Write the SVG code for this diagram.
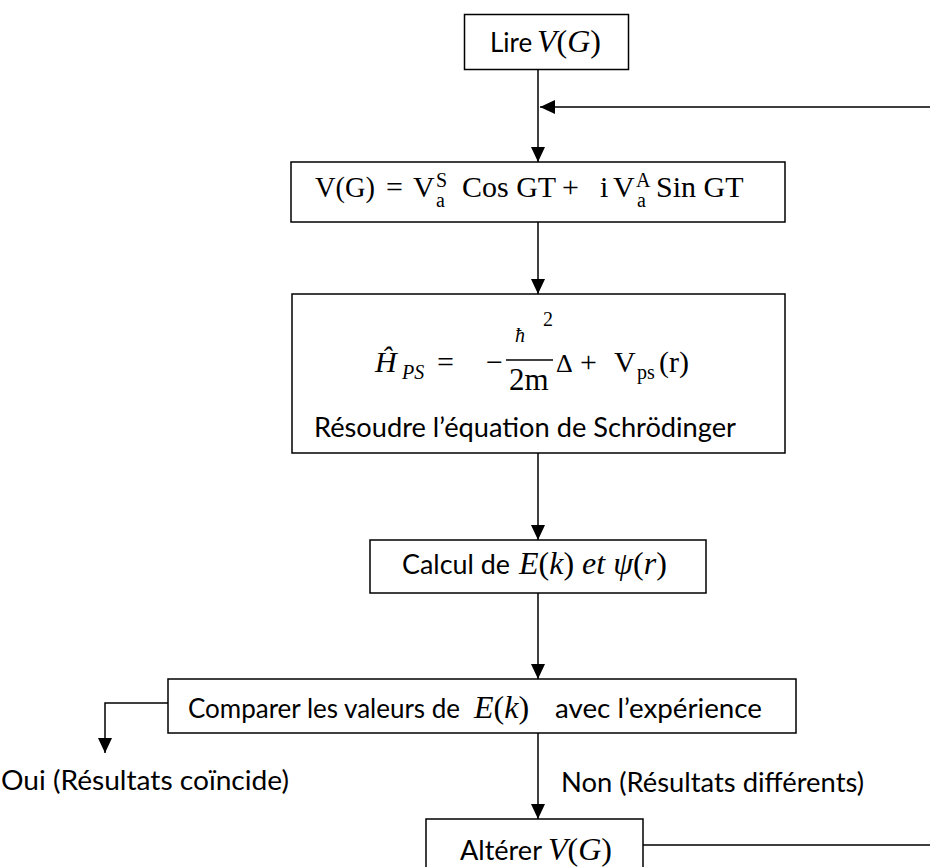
<svg xmlns="http://www.w3.org/2000/svg" width="930" height="867" viewBox="0 0 930 867">
<style>
.box{fill:#fff;stroke:#000;stroke-width:1.5}
.conn{fill:none;stroke:#000;stroke-width:1.5}
.t{font-family:Lato,"Open Sans","Liberation Sans",sans-serif;font-size:26px;fill:#000}
.m{font-family:"Liberation Serif","Times New Roman",serif;font-size:30px;fill:#000}
.mb{font-family:"Liberation Serif","Times New Roman",serif;font-size:32px;fill:#000}
.i{font-style:italic}
.s{font-size:20px}
</style>
<defs>
<marker id="ah" markerUnits="userSpaceOnUse" markerWidth="15" markerHeight="14" refX="15" refY="7" orient="auto">
<path d="M0,0 L15,7 L0,14 z" fill="#000"/>
</marker>
</defs>
<rect width="930" height="867" fill="#fff"/>
<g id="connectors">
<path class="conn" d="M538,69 V162" marker-end="url(#ah)"/>
<path class="conn" d="M538,208 V294" marker-end="url(#ah)"/>
<path class="conn" d="M538,453 V540" marker-end="url(#ah)"/>
<path class="conn" d="M538,593 V679" marker-end="url(#ah)"/>
<path class="conn" d="M168,703 H105 V753" marker-end="url(#ah)"/>
<path class="conn" d="M538,733 V819" marker-end="url(#ah)"/>
<path class="conn" d="M643,845 H931 V107 H540" marker-end="url(#ah)"/>
</g>
<g id="n1">
<rect class="box" x="464.5" y="14.5" width="164" height="55"/>
<text class="t" x="490" y="52">Lire</text>
<text class="mb" x="537" y="52"><tspan class="i">V</tspan>(<tspan class="i">G</tspan>)</text>
</g>
<g id="n2">
<rect class="box" x="291" y="162" width="494" height="60"/>
<text class="m" x="315" y="197" textLength="60" lengthAdjust="spacingAndGlyphs">V(G)</text>
<text class="m" x="386" y="197">=</text>
<text class="m" x="413" y="197">V</text>
<text class="m s" x="436" y="187">S</text>
<text class="m s" x="436" y="207">a</text>
<text class="m" x="462" y="197">Cos GT</text>
<text class="m" x="562" y="197">+</text>
<text class="m" x="600" y="197">i</text>
<text class="m" x="613" y="197">V</text>
<text class="m s" x="636" y="187">A</text>
<text class="m s" x="637" y="207">a</text>
<text class="m" x="656" y="197">Sin GT</text>
</g>
<g id="n3">
<rect class="box" x="292" y="294" width="493" height="159"/>
<text class="m i" x="375" y="372">Ĥ</text>
<text class="m i s" x="402" y="379">PS</text>
<text class="m" x="437" y="372">=</text>
<text class="m" x="486" y="372">−</text>
<text class="m i s" x="515" y="342">ħ</text>
<text class="m s" x="543" y="326">2</text>
<line x1="506" y1="360" x2="553" y2="360" stroke="#000" stroke-width="1.5"/>
<text class="m" x="509" y="390" style="font-size:31px">2m</text>
<text class="m" x="556" y="372" style="font-size:26px">Δ</text>
<text class="m" x="580" y="372">+</text>
<text class="m" x="614" y="372">V</text>
<text class="m s" x="637" y="379">ps</text>
<text class="m" x="659" y="372">(r)</text>
<text class="t" x="314" y="437" textLength="422" lengthAdjust="spacingAndGlyphs">Résoudre l’équation de Schrödinger</text>
</g>
<g id="n4">
<rect class="box" x="370" y="540" width="336" height="53"/>
<text class="t" x="402" y="574" textLength="108" lengthAdjust="spacingAndGlyphs">Calcul de</text>
<text class="mb" x="519" y="574"><tspan class="i">E</tspan>(<tspan class="i">k</tspan>) <tspan class="i">et ψ</tspan>(<tspan class="i">r</tspan>)</text>
</g>
<g id="n5">
<rect class="box" x="168" y="679" width="628" height="54"/>
<text class="t" x="188" y="718" textLength="272" lengthAdjust="spacingAndGlyphs">Comparer les valeurs de</text>
<text class="mb" x="474" y="718"><tspan class="i">E</tspan>(<tspan class="i">k</tspan>)</text>
<text class="t" x="555" y="718" textLength="207" lengthAdjust="spacingAndGlyphs">avec l’expérience</text>
</g>
<g id="n6">
<rect class="box" x="426" y="819" width="217" height="70"/>
<text class="t" x="460" y="860" textLength="82" lengthAdjust="spacingAndGlyphs">Altérer</text>
<text class="mb" x="548" y="860"><tspan class="i">V</tspan>(<tspan class="i">G</tspan>)</text>
</g>
<g id="labels">
<text class="t" x="1" y="790" textLength="288" lengthAdjust="spacingAndGlyphs">Oui (Résultats coïncide)</text>
<text class="t" x="561" y="792" textLength="303" lengthAdjust="spacingAndGlyphs">Non (Résultats différents)</text>
</g>
</svg>
